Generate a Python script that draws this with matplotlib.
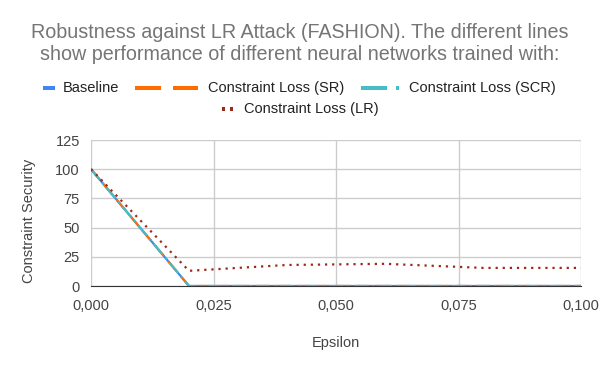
import matplotlib
matplotlib.use("Agg")
import matplotlib.pyplot as plt
from matplotlib.lines import Line2D
from matplotlib.ticker import FuncFormatter

plt.rcParams['font.family'] = ['Liberation Sans', 'DejaVu Sans']

eps = [0.0, 0.02, 0.04, 0.06, 0.08, 0.10]
baseline = [100, 0, 0, 0, 0, 0]
sr = [100, 0, 0, 0, 0, 0]
scr = [100, 0, 0, 0, 0, 0]
lr = [100, 13, 18, 19, 15.5, 15.5]
xticks = [0.0, 0.025, 0.05, 0.075, 0.1]
yticks = [0, 25, 50, 75, 100, 125]
names = ["Baseline", "Constraint Loss (SR)", "Constraint Loss (SCR)", "Constraint Loss (LR)"]

c_base, c_sr, c_scr, c_lr = "#4285f4", "#ff6d01", "#46bdc6", "#9c2a1b"
grey = "#444444"

W, H = 600, 371
fig = plt.figure(figsize=(6, 3.71), dpi=100)
ax = fig.add_axes([91/W, 1-286/H, 490/W, 146/H])

ax.plot(eps, baseline, color=c_base, lw=1.6)
ax.plot(eps, sr, color=c_sr, lw=1.6, dashes=(6, 3))
ax.plot(eps, scr, color=c_scr, lw=1.6, dashes=(6, 2, 1, 2))
ax.plot(eps, lr, color=c_lr, lw=1.6, dashes=(1, 2.2))

ax.set_xlim(0, 0.1)
ax.set_ylim(0, 125)
ax.set_xticks(xticks)
ax.set_yticks(yticks)
ax.xaxis.set_major_formatter(FuncFormatter(lambda v, p: ("%.3f" % v).replace(".", ",")))
ax.grid(True, color="#cccccc", lw=1)
ax.set_axisbelow(True)
for s in ["top", "right", "left"]:
    ax.spines[s].set_visible(False)
ax.spines["bottom"].set_color("#333333")
ax.tick_params(length=0, labelsize=10.5, colors=grey)
ax.tick_params(axis="x", pad=9)
ax.tick_params(axis="y", pad=8)

# axis titles placed at measured pixel centres
fig.text(336/W, 1-343.5/H, "Epsilon", ha="center", va="center", fontsize=10.5, color=grey)
fig.text(28.5/W, 1-221/H, "Constraint Security", ha="center", va="center",
         rotation=90, fontsize=10.5, color=grey)

# title, two lines
fig.text(0.5, 1-38/H, "Robustness against LR Attack (FASHION). The different lines",
         ha="center", va="baseline", fontsize=14.2, color="#757575")
fig.text(0.5, 1-60/H, "show performance of different neural networks trained with:",
         ha="center", va="baseline", fontsize=14.2, color="#757575")

# legend drawn by hand in pixel positions
def seg(x0, x1, y, c):
    fig.add_artist(Line2D([x0/W, x1/W], [1-y/H, 1-y/H], transform=fig.transFigure,
                          color=c, lw=2.9, solid_capstyle="butt"))

def label(x, y, s):
    fig.text(x/W, 1-y/H, s, ha="left", va="center", fontsize=10.5, color="#222222")

y1, y2 = 88, 109
seg(43, 55, y1, c_base); label(63, y1, names[0])
seg(135, 161, y1, c_sr); seg(173, 198, y1, c_sr); label(208, y1, names[1])
seg(361, 387, y1, c_scr); seg(396, 399, y1, c_scr); label(409, y1, names[2])
seg(222, 225, y2, c_lr); seg(230, 233, y2, c_lr); label(244, y2, names[3])

fig.savefig("out.png", dpi=100)
